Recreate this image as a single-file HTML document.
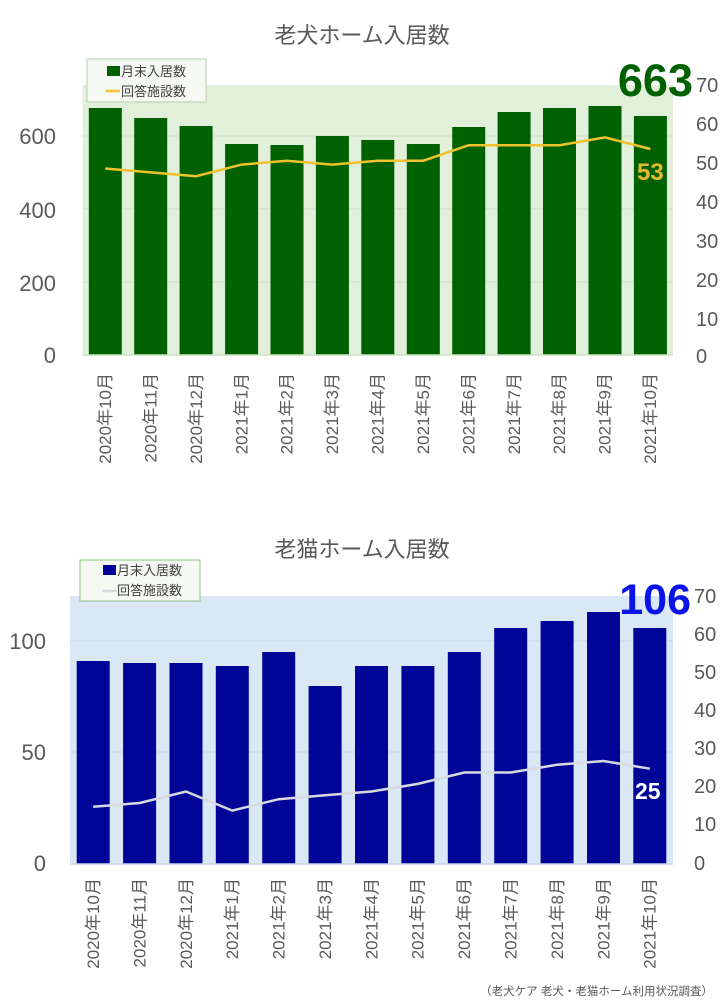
<!DOCTYPE html>
<html><head><meta charset="utf-8"><style>
html,body{margin:0;padding:0;background:#fff}
svg{display:block}
text{font-family:"Liberation Sans","Noto Sans CJK JP",sans-serif}
</style></head><body>
<svg width="720" height="1005" viewBox="0 0 720 1005" xmlns="http://www.w3.org/2000/svg">
<!-- Chart 1 -->
<text x="362" y="43" font-size="22" fill="#595959" text-anchor="middle">老犬ホーム入居数</text>
<rect x="82.6" y="85" width="590.4" height="270" fill="#e2efda"/>
<g stroke="#d0ddc8" stroke-width="1">
<line x1="82.6" y1="136" x2="673" y2="136"/><line x1="82.6" y1="209" x2="673" y2="209"/><line x1="82.6" y1="282" x2="673" y2="282"/>
</g>
<g fill="#006100">
<rect x="88.8" y="108" width="33" height="247"/><rect x="134.2" y="118" width="33" height="237"/><rect x="179.6" y="126" width="33" height="229"/><rect x="225.1" y="144" width="33" height="211"/><rect x="270.5" y="145" width="33" height="210"/><rect x="315.9" y="136" width="33" height="219"/><rect x="361.3" y="140" width="33" height="215"/><rect x="406.8" y="144" width="33" height="211"/><rect x="452.2" y="127" width="33" height="228"/><rect x="497.6" y="112" width="33" height="243"/><rect x="543" y="108" width="33" height="247"/><rect x="588.5" y="106" width="33" height="249"/><rect x="633.9" y="116" width="33" height="239"/>
</g>
<line x1="82.6" y1="355" x2="673" y2="355" stroke="#c9e6c0" stroke-width="1.5"/>
<polyline fill="none" stroke="#f2c12e" stroke-width="2.5" points="105.3,168.5 150.7,172.4 196.1,176.2 241.6,164.6 287,160.7 332.4,164.6 377.8,160.7 423.3,160.7 468.7,145.2 514.1,145.2 559.5,145.2 605,137.4 650.4,149"/>
<text x="637" y="180" font-size="24" font-weight="bold" fill="#e6b82a">53</text>
<text x="693" y="96" font-size="45" font-weight="bold" fill="#006100" text-anchor="end">663</text>
<g font-size="22" fill="#595959" text-anchor="end">
<text x="56" y="144">600</text><text x="56" y="218">400</text><text x="56" y="291">200</text><text x="56" y="363">0</text>
</g>
<g font-size="20" fill="#595959">
<text x="696" y="92">70</text><text x="696" y="131">60</text><text x="696" y="170">50</text><text x="696" y="209">40</text><text x="696" y="248">30</text><text x="696" y="287">20</text><text x="696" y="326">10</text><text x="696" y="363">0</text>
</g>
<rect x="87" y="59" width="119" height="43" fill="#f5f8f3" stroke="#b5cfa9"/>
<rect x="107" y="66" width="13" height="10" fill="#006100"/>
<text x="121" y="76" font-size="13" fill="#404040">月末入居数</text>
<line x1="106" y1="91" x2="120" y2="91" stroke="#f2c12e" stroke-width="2.5"/>
<text x="121" y="96" font-size="13" fill="#404040">回答施設数</text>
<g font-size="17" fill="#595959" text-anchor="end">
<text transform="translate(111,373) rotate(-90)">2020年10月</text>
<text transform="translate(156.4,373) rotate(-90)">2020年11月</text>
<text transform="translate(201.8,373) rotate(-90)">2020年12月</text>
<text transform="translate(247.3,373) rotate(-90)">2021年1月</text>
<text transform="translate(292.7,373) rotate(-90)">2021年2月</text>
<text transform="translate(338.1,373) rotate(-90)">2021年3月</text>
<text transform="translate(383.5,373) rotate(-90)">2021年4月</text>
<text transform="translate(429,373) rotate(-90)">2021年5月</text>
<text transform="translate(474.4,373) rotate(-90)">2021年6月</text>
<text transform="translate(519.8,373) rotate(-90)">2021年7月</text>
<text transform="translate(565.2,373) rotate(-90)">2021年8月</text>
<text transform="translate(610.7,373) rotate(-90)">2021年9月</text>
<text transform="translate(656.1,373) rotate(-90)">2021年10月</text>
</g>
<!-- Chart 2 -->
<text x="362" y="557" font-size="22" fill="#595959" text-anchor="middle">老猫ホーム入居数</text>
<rect x="70" y="596" width="603" height="268" fill="#dae7f4"/>
<g stroke="#c6d6e8" stroke-width="1">
<line x1="70" y1="641" x2="673" y2="641"/><line x1="70" y1="752" x2="673" y2="752"/>
</g>
<g fill="#000597">
<rect x="76.7" y="661" width="33" height="203"/><rect x="123.1" y="663" width="33" height="201"/><rect x="169.5" y="663" width="33" height="201"/><rect x="215.8" y="666" width="33" height="198"/><rect x="262.2" y="652" width="33" height="212"/><rect x="308.6" y="686" width="33" height="178"/><rect x="355" y="666" width="33" height="198"/><rect x="401.4" y="666" width="33" height="198"/><rect x="447.8" y="652" width="33" height="212"/><rect x="494.2" y="628" width="33" height="236"/><rect x="540.6" y="621" width="33" height="243"/><rect x="587" y="612" width="33" height="252"/><rect x="633.3" y="628" width="33" height="236"/>
</g>
<line x1="70" y1="864" x2="673" y2="864" stroke="#c9d6e6" stroke-width="1.5"/>
<polyline fill="none" stroke="#d9d9e0" stroke-width="2.5" points="93.2,806.8 139.6,803 186,791.5 232.3,810.6 278.7,799.2 325.1,795.3 371.5,791.5 417.9,783.9 464.3,772.5 510.7,772.5 557.1,764.8 603.5,761 649.8,768.7"/>
<text x="635" y="799" font-size="23" font-weight="bold" fill="#ffffff">25</text>
<text x="691" y="614" font-size="43" font-weight="bold" fill="#0a14e6" text-anchor="end">106</text>
<g font-size="22" fill="#595959" text-anchor="end">
<text x="46" y="649">100</text><text x="46" y="760">50</text><text x="46" y="871">0</text>
</g>
<g font-size="20" fill="#595959">
<text x="694" y="603">70</text><text x="694" y="641">60</text><text x="694" y="679">50</text><text x="694" y="717">40</text><text x="694" y="755">30</text><text x="694" y="793">20</text><text x="694" y="831">10</text><text x="694" y="870">0</text>
</g>
<rect x="80" y="560" width="120" height="41" fill="#f5f8f3" stroke="#8fbf86"/>
<rect x="103" y="565" width="13" height="10" fill="#000597"/>
<text x="117" y="575" font-size="13" fill="#404040">月末入居数</text>
<line x1="102" y1="591" x2="117" y2="591" stroke="#d9d9e0" stroke-width="2.5"/>
<text x="117" y="595" font-size="13" fill="#404040">回答施設数</text>
<g font-size="17" fill="#595959" text-anchor="end">
<text transform="translate(99,878) rotate(-90)">2020年10月</text>
<text transform="translate(145.4,878) rotate(-90)">2020年11月</text>
<text transform="translate(191.8,878) rotate(-90)">2020年12月</text>
<text transform="translate(238.1,878) rotate(-90)">2021年1月</text>
<text transform="translate(284.5,878) rotate(-90)">2021年2月</text>
<text transform="translate(330.9,878) rotate(-90)">2021年3月</text>
<text transform="translate(377.3,878) rotate(-90)">2021年4月</text>
<text transform="translate(423.7,878) rotate(-90)">2021年5月</text>
<text transform="translate(470.1,878) rotate(-90)">2021年6月</text>
<text transform="translate(516.5,878) rotate(-90)">2021年7月</text>
<text transform="translate(562.9,878) rotate(-90)">2021年8月</text>
<text transform="translate(609.3,878) rotate(-90)">2021年9月</text>
<text transform="translate(655.6,878) rotate(-90)">2021年10月</text>
</g>
<text x="713" y="995" font-size="11.5" fill="#595959" text-anchor="end">（老犬ケア 老犬・老猫ホーム利用状況調査）</text>
</svg>
</body></html>
